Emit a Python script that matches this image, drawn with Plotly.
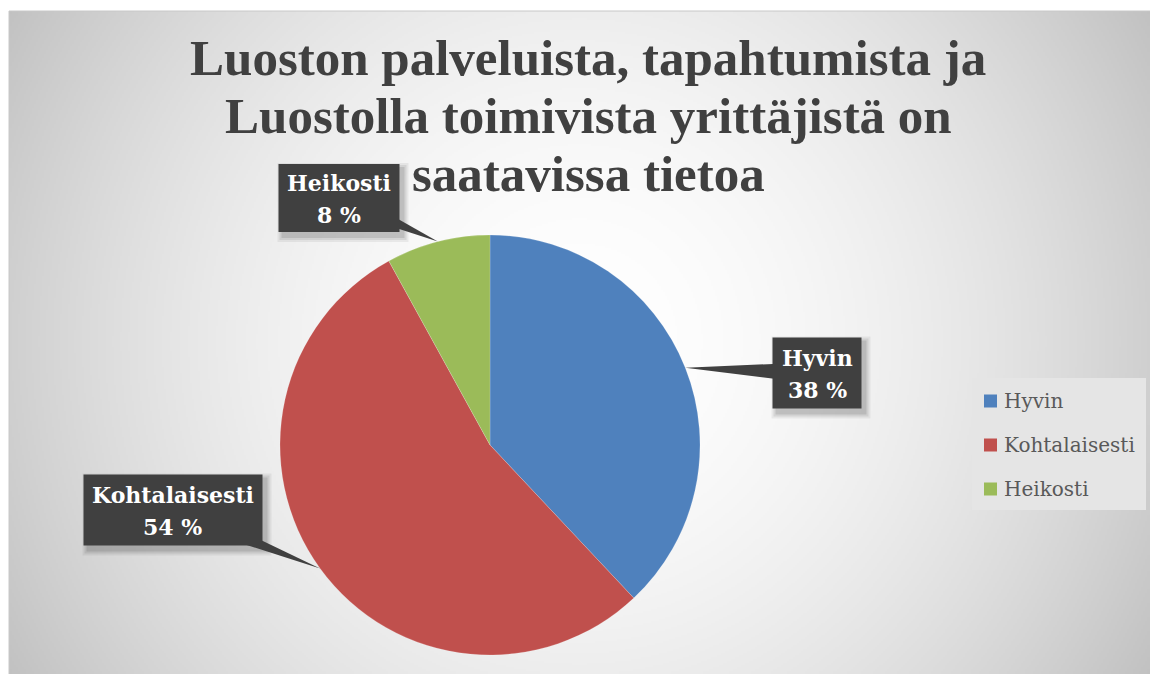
import base64
import struct
import zlib
import math
import numpy as np
import plotly.graph_objects as go

# ---------------- data ----------------
categories = ["Hyvin", "Kohtalaisesti", "Heikosti"]
values = [38, 54, 8]
colors = ["#4F81BD", "#C0504D", "#9BBB59"]
title_lines = [
    "Luoston palveluista, tapahtumista ja",
    "Luostolla toimivista yrittäjistä on",
    "saatavissa tietoa",
]

# ---------------- layout helpers ----------------
W, H = 1150, 674


def px(x):
    return x / W


def py(y):
    return 1 - y / H


# background radial gradient (chart area 9..1150 x 11..674)
BG_X0, BG_Y0, BG_X1, BG_Y1 = 9, 11, 1150, 674


def chunk(tag, data):
    return struct.pack(">I", len(data)) + tag + data + struct.pack(">I", zlib.crc32(tag + data) & 0xFFFFFFFF)


def gradient_png():
    scale = 2
    w = (BG_X1 - BG_X0) // scale
    h = (BG_Y1 - BG_Y0) // scale
    ys, xs = np.mgrid[0:h, 0:w].astype(float)
    gx = BG_X0 + xs * scale
    gy = BG_Y0 + ys * scale
    cx, cy = 578, 340
    d = np.sqrt((gx - cx) ** 2 + (gy - cy) ** 2)
    t = np.clip(d / 663.0, 0, 1)
    val = np.clip(255 - 62 * t ** 1.8, 0, 255).astype(np.uint8)
    raw = b"".join(b"\x00" + val[r].tobytes() for r in range(h))
    png = b"\x89PNG\r\n\x1a\n"
    png += chunk(b"IHDR", struct.pack(">IIBBBBB", w, h, 8, 0, 0, 0, 0))
    png += chunk(b"IDAT", zlib.compress(raw, 9))
    png += chunk(b"IEND", b"")
    return "data:image/png;base64," + base64.b64encode(png).decode()


# pie geometry (pixels)
PIE_CX, PIE_CY, PIE_R = 490, 445, 210

fig = go.Figure()
fig.add_trace(
    go.Pie(
        labels=categories,
        values=values,
        marker=dict(colors=colors, line=dict(color="rgba(255,255,255,0.35)", width=0.5)),
        sort=False,
        direction="clockwise",
        rotation=0,
        textinfo="none",
        hoverinfo="label+percent",
        showlegend=False,
        domain=dict(x=[px(PIE_CX - PIE_R), px(PIE_CX + PIE_R)], y=[py(PIE_CY + PIE_R), py(PIE_CY - PIE_R)]),
    )
)

shapes = []
annotations = []

# callout label boxes (centre positions and sizes in pixels)
box_geom = {
    "Hyvin": (817, 373, 89, 71),
    "Kohtalaisesti": (173, 510, 179, 71),
    "Heikosti": (339, 198, 121, 68),
}
total = sum(values)
cum = 0
for cat, v in zip(categories, values):
    theta = 2 * math.pi * (cum + v / 2) / total
    cum += v
    tx = PIE_CX + PIE_R * math.sin(theta)
    ty = PIE_CY - PIE_R * math.cos(theta)
    bx, by, bw, bh = box_geom[cat]
    # soft shadow
    for k, a in ((6, 0.06), (4, 0.08), (2, 0.10)):
        shapes.append(dict(type="rect", xref="paper", yref="paper",
                           x0=px(bx - bw / 2 + 5 - k), x1=px(bx + bw / 2 + 3 + k),
                           y0=py(by + bh / 2 + 4 + k), y1=py(by - bh / 2 + 5 - k),
                           fillcolor="rgba(0,0,0,{})".format(a), line=dict(width=0), layer="above"))
    dx, dy = tx - bx, ty - by
    L = math.hypot(dx, dy)
    nx, ny = -dy / L * 11, dx / L * 11
    path = "M {} {} L {} {} L {} {} Z".format(
        px(bx + nx), py(by + ny), px(tx), py(ty), px(bx - nx), py(by - ny)
    )
    shapes.append(dict(type="path", xref="paper", yref="paper", path=path,
                       fillcolor="#404040", line=dict(width=0), layer="above"))
    shapes.append(dict(type="rect", xref="paper", yref="paper",
                       x0=px(bx - bw / 2), x1=px(bx + bw / 2), y0=py(by + bh / 2), y1=py(by - bh / 2),
                       fillcolor="#404040", line=dict(width=0), layer="above"))
    pct = round(100 * v / total)
    for txt, off in ((cat, -15), ("{} %".format(pct), 17)):
        annotations.append(dict(
            x=px(bx), y=py(by + off), xref="paper", yref="paper", xanchor="center", yanchor="middle",
            text=txt, showarrow=False, align="center",
            font=dict(family="DejaVu Serif", size=22, color="white", weight="bold"),
            borderpad=0,
        ))

# title lines
baselines = [75, 133, 191]
for line, b in zip(title_lines, baselines):
    annotations.append(dict(
        x=px(588), y=py(b + 13), xref="paper", yref="paper", xanchor="center", yanchor="bottom",
        text=line, showarrow=False,
        font=dict(family="Liberation Serif", size=51, color="#404040", weight="bold"),
    ))

# custom legend
shapes.append(dict(type="rect", xref="paper", yref="paper", x0=px(972), x1=px(1146), y0=py(510), y1=py(378),
                   fillcolor="#e5e5e5", line=dict(width=0), layer="below"))
leg_y0, leg_step = 401, 44
for i, (cat, col) in enumerate(zip(categories, colors)):
    cy = leg_y0 + i * leg_step
    shapes.append(dict(type="rect", xref="paper", yref="paper", x0=px(984), x1=px(997),
                       y0=py(cy + 6.5), y1=py(cy - 6.5), fillcolor=col, line=dict(width=0)))
    annotations.append(dict(
        x=px(1002), y=py(cy), xref="paper", yref="paper", xanchor="left", yanchor="middle",
        text=cat, showarrow=False, font=dict(family="DejaVu Serif", size=20, color="#595959"),
    ))

# chart area outline
shapes.append(dict(type="rect", xref="paper", yref="paper", x0=px(BG_X0), x1=px(BG_X1 + 5), y0=py(BG_Y1 + 5),
                   y1=py(BG_Y0), line=dict(color="#c8c8c8", width=1), fillcolor="rgba(0,0,0,0)", layer="below"))

fig.update_layout(
    width=W,
    height=H,
    margin=dict(l=0, r=0, t=0, b=0),
    paper_bgcolor="white",
    plot_bgcolor="white",
    showlegend=False,
    images=[dict(source=gradient_png(), xref="paper", yref="paper", x=px(BG_X0), y=py(BG_Y0),
                 sizex=px(BG_X1) - px(BG_X0), sizey=(BG_Y1 - BG_Y0) / H, xanchor="left", yanchor="top",
                 sizing="stretch", layer="below")],
    shapes=shapes,
    annotations=annotations,
)

fig.write_html(
    "out.html",
    config={"displayModeBar": False},
    post_script="document.body.style.margin='0px';document.body.style.overflow='hidden';",
)
